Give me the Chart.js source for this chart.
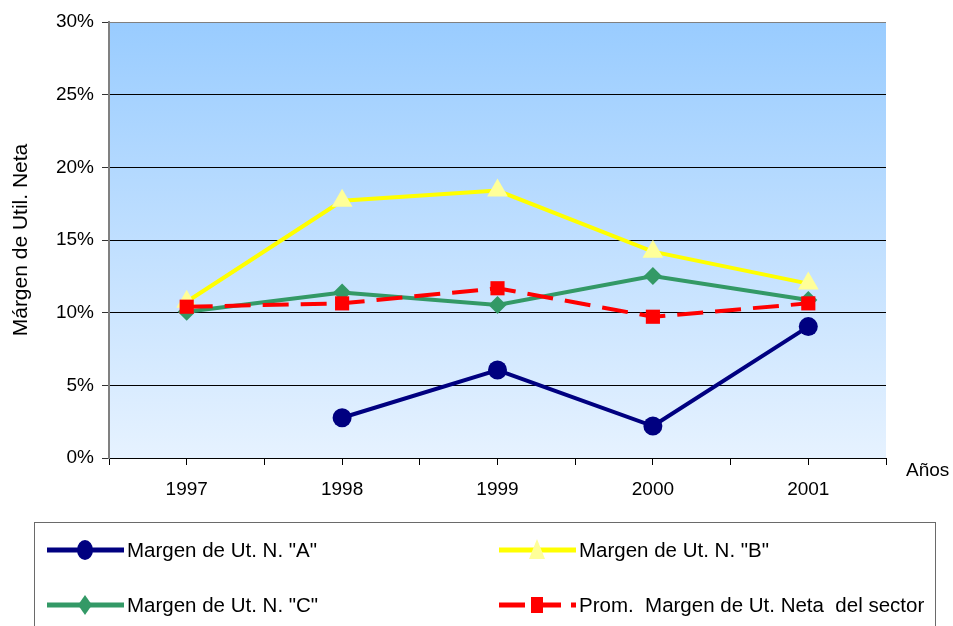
<!DOCTYPE html>
<html>
<head>
<meta charset="utf-8">
<script src="https://cdn.jsdelivr.net/npm/chart.js@4"></script>
<style>
  body { margin: 0; background: #fff; font-family: "Liberation Sans", Arial, sans-serif; }
  #wrap { position: relative; width: 953px; height: 626px; overflow: hidden; }
  #chart { position: absolute; left: 0; top: 0; }
  #anos { position: absolute; left: 906px; top: 459px; font-size: 19px; color: #000; }
  #legend { position: absolute; left: 34px; top: 522px; width: 900px; height: 120px; border: 1px solid #6a6a6a; }
  .item { position: absolute; display: flex; align-items: center; font-size: 20.5px; color: #000; white-space: pre; }
  .item canvas { margin-right: 2px; }
</style>
</head>
<body>
<div id="wrap">
  <canvas id="chart" width="953" height="626"></canvas>
  <div id="anos">Años</div>
  <div id="legend"></div>
</div>
<script>
const years = [1997, 1998, 1999, 2000, 2001];
const margenA = [null, 2.77, 6.05, 2.2, 9.04];
const margenB = [10.75, 17.7, 18.4, 14.2, 12.0];
const margenC = [10.07, 11.38, 10.53, 12.52, 10.87];
const promSector = [10.41, 10.64, 11.68, 9.72, 10.64];
const yTicks = [0, 5, 10, 15, 20, 25, 30];

const FONT = '"Liberation Sans", Arial, sans-serif';

function pts(values) {
  return years.map((y, i) => ({ x: y, y: values[i] }));
}

// dataset 0 is painted last, so it sits on top
const series = [
  { label: 'Margen de Ut. N. "A"', data: margenA, color: '#000080', fill: '#000080', style: 'circle', radius: 9.5, dash: [], col: 0, row: 0 },
  { label: 'Prom.  Margen de Ut. Neta  del sector', data: promSector, color: '#FF0000', fill: '#FF0000', style: 'rect', radius: 10, dash: [26, 12], col: 1, row: 1 },
  { label: 'Margen de Ut. N. "C"', data: margenC, color: '#339966', fill: '#339966', style: 'rectRot', radius: 9, dash: [], col: 0, row: 1 },
  { label: 'Margen de Ut. N. "B"', data: margenB, color: '#FFFF00', fill: '#FFFF99', style: 'triangle', radius: 12, dash: [], col: 1, row: 0 }
];

const bgPlugin = {
  id: 'plotBg',
  beforeDraw(chart) {
    const { ctx, chartArea: a } = chart;
    const g = ctx.createLinearGradient(0, a.top, 0, a.bottom);
    g.addColorStop(0, 'rgb(153,204,255)');
    g.addColorStop(1, 'rgb(230,242,255)');
    ctx.save();
    ctx.fillStyle = g;
    ctx.fillRect(a.left, a.top, a.right - a.left, a.bottom - a.top);
    ctx.restore();
  }
};

new Chart(document.getElementById('chart'), {
  type: 'line',
  data: {
    datasets: series.map(s => ({
      label: s.label,
      data: pts(s.data),
      borderColor: s.color,
      backgroundColor: s.fill,
      borderWidth: 4,
      borderDash: s.dash,
      pointStyle: s.style,
      pointRadius: s.radius,
      pointBorderWidth: 0,
      pointBorderColor: s.fill,
      pointBackgroundColor: s.fill,
      tension: 0,
      fill: false
    }))
  },
  options: {
    responsive: false,
    animation: false,
    layout: { padding: { left: 0, top: 22, right: 67, bottom: 118 } },
    plugins: { legend: { display: false }, tooltip: { enabled: false } },
    scales: {
      x: {
        type: 'linear',
        min: 1996.5,
        max: 2001.5,
        afterBuildTicks: scale => {
          const t = [];
          for (let i = 0; i <= years.length * 2; i++) t.push({ value: years[0] - 0.5 + i * 0.5 });
          scale.ticks = t;
        },
        afterFit: scale => { scale.height = 50; },
        ticks: {
          autoSkip: false,
          maxRotation: 0,
          padding: 13,
          color: '#000',
          font: { family: FONT, size: 19 },
          callback: v => Number.isInteger(v) ? String(v) : ''
        },
        grid: { drawOnChartArea: false, drawTicks: true, tickLength: 7, tickColor: '#000', tickWidth: 1 },
        border: { color: '#000', width: 1 }
      },
      y: {
        min: 0,
        max: 30,
        afterBuildTicks: scale => { scale.ticks = yTicks.map(v => ({ value: v })); },
        afterFit: scale => { scale.width = 109; },
        ticks: {
          padding: 8,
          color: '#000',
          font: { family: FONT, size: 19 },
          callback: v => v + '%'
        },
        grid: {
          color: c => c.tick.value === 30 ? '#808080' : (c.tick.value === 0 ? 'rgba(0,0,0,0)' : '#000'),
          lineWidth: 1,
          tickLength: 7,
          tickColor: '#333'
        },
        border: { color: '#808080', width: 2 },
        title: {
          display: true,
          text: 'Márgen de Util. Neta',
          color: '#000',
          font: { family: FONT, size: 21 },
          padding: { top: 9, bottom: 0 }
        }
      }
    }
  },
  plugins: [bgPlugin]
});

// legend: line + marker symbol, then the label
const legend = document.getElementById('legend');
const colX = [11, 463];
const rowY = [14, 69];
series.forEach(s => {
  const item = document.createElement('div');
  item.className = 'item';
  item.style.left = colX[s.col] + 'px';
  item.style.top = rowY[s.row] + 'px';
  const c = document.createElement('canvas');
  c.width = 79; c.height = 26;
  const g = c.getContext('2d');
  g.strokeStyle = s.color;
  g.lineWidth = 5;
  g.setLineDash(s.dash.length ? [26, 10] : []);
  g.beginPath(); g.moveTo(1, 13); g.lineTo(78, 13); g.stroke();
  g.setLineDash([]);
  g.fillStyle = s.fill;
  const cx = 39, cy = 13;
  g.beginPath();
  if (s.style === 'circle') g.ellipse(cx, cy, 8, 10, 0, 0, Math.PI * 2);
  else if (s.style === 'rect') g.rect(cx - 6, cy - 8, 12, 16);
  else if (s.style === 'rectRot') { g.moveTo(cx, cy - 10); g.lineTo(cx + 7, cy); g.lineTo(cx, cy + 10); g.lineTo(cx - 7, cy); }
  else { g.moveTo(cx, cy - 11); g.lineTo(cx + 8, cy + 9); g.lineTo(cx - 8, cy + 9); }
  g.closePath(); g.fill();
  item.appendChild(c);
  const span = document.createElement('span');
  span.textContent = s.label;
  item.appendChild(span);
  legend.appendChild(item);
});
</script>
</body>
</html>
